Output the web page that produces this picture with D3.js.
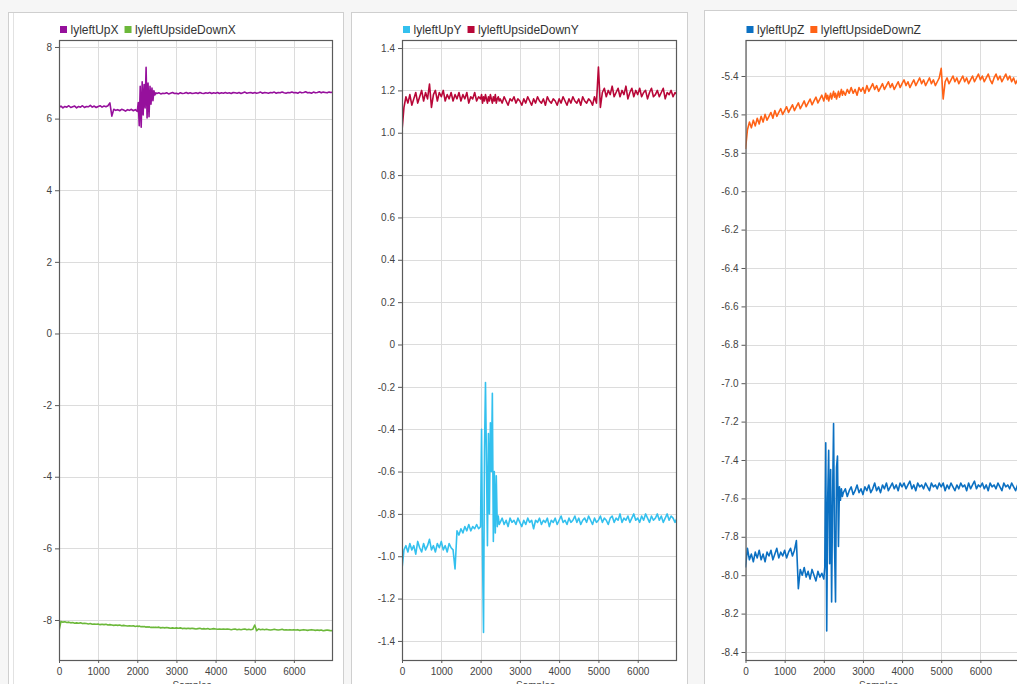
<!DOCTYPE html>
<html lang="en">
<head>
<meta charset="UTF-8">
<title>lyleft samples</title>
<script src="https://d3js.org/d3.v7.min.js"></script>
<style>
  body { margin: 0; background: #f6f6f6; font-family: "Liberation Sans", Arial, sans-serif; }
  svg { display: block; }
  .tick text { fill: #444; font-size: 10px; font-family: "Liberation Sans", Arial, sans-serif; }
  .legend text { fill: #333; font-size: 12px; }
  .grid line { stroke: #dcdcdc; }
</style>
</head>
<body>
<svg width="1017" height="684"></svg>
<script>
// sample index: every 50, denser (25) around the disturbance
const samples = [].concat(d3.range(0, 2000, 50), d3.range(2000, 2500, 25), d3.range(2500, 7001, 50));

const xTicks = [0, 1000, 2000, 3000, 4000, 5000, 6000];
const yTicksX = [-8, -6, -4, -2, 0, 2, 4, 6, 8];
const yTicksY = [-1.4, -1.2, -1.0, -0.8, -0.6, -0.4, -0.2, 0, 0.2, 0.4, 0.6, 0.8, 1.0, 1.2, 1.4];
const yTicksZ = [-8.4, -8.2, -8.0, -7.8, -7.6, -7.4, -7.2, -7.0, -6.8, -6.6, -6.4, -6.2, -6.0, -5.8, -5.6, -5.4];

const upX = [
  6.31, 6.35, 6.30, 6.34, 6.32, 6.36, 6.31, 6.33, 6.35, 6.30,
  6.34, 6.32, 6.36, 6.31, 6.34, 6.33, 6.37, 6.32, 6.35, 6.31,
  6.34, 6.36, 6.32, 6.35, 6.33, 6.36, 6.44, 6.07, 6.26, 6.23,
  6.25, 6.22, 6.26, 6.24, 6.21, 6.25, 6.23, 6.26, 6.22, 6.25,
  6.20, 6.45, 5.80, 6.90, 5.76, 7.03, 6.10, 6.95, 6.30, 7.43,
  6.02, 6.99, 6.05, 6.90, 6.40, 6.85, 6.50, 6.78, 6.66, 6.72,
  6.70, 6.72, 6.69, 6.71, 6.70, 6.72, 6.69, 6.71, 6.73, 6.70,
  6.71, 6.69, 6.72, 6.70, 6.71, 6.73, 6.70, 6.72, 6.70, 6.71,
  6.72, 6.70, 6.73, 6.71, 6.70, 6.72, 6.71, 6.73, 6.70, 6.72,
  6.71, 6.73, 6.70, 6.72, 6.71, 6.73, 6.71, 6.72, 6.70, 6.73,
  6.72, 6.71, 6.73, 6.70, 6.72, 6.74, 6.71, 6.72, 6.73, 6.71,
  6.73, 6.71, 6.72, 6.74, 6.71, 6.73, 6.72, 6.71, 6.73, 6.72,
  6.74, 6.71, 6.73, 6.72, 6.74, 6.72, 6.71, 6.73, 6.72, 6.74,
  6.72, 6.73, 6.71, 6.74, 6.72, 6.73, 6.75, 6.72, 6.73, 6.71,
  6.74, 6.72, 6.73, 6.75, 6.72, 6.74, 6.73, 6.72, 6.74, 6.73,
  6.74
];
const downX = [
  -8.30, -8.04, -8.06, -8.05, -8.07, -8.06, -8.08, -8.07, -8.09, -8.08,
  -8.09, -8.08, -8.10, -8.09, -8.10, -8.11, -8.10, -8.12, -8.11, -8.12,
  -8.11, -8.13, -8.12, -8.13, -8.12, -8.14, -8.13, -8.14, -8.15, -8.14,
  -8.15, -8.14, -8.16, -8.15, -8.16, -8.17, -8.16, -8.17, -8.16, -8.18,
  -8.17, -8.18, -8.17, -8.18, -8.19, -8.18, -8.19, -8.18, -8.19, -8.20,
  -8.19, -8.20, -8.19, -8.20, -8.21, -8.20, -8.21, -8.20, -8.21, -8.20,
  -8.21, -8.20, -8.22, -8.21, -8.22, -8.21, -8.22, -8.23, -8.22, -8.23,
  -8.22, -8.23, -8.22, -8.24, -8.23, -8.24, -8.23, -8.24, -8.23, -8.24,
  -8.25, -8.24, -8.23, -8.25, -8.24, -8.25, -8.24, -8.26, -8.25, -8.24,
  -8.25, -8.26, -8.25, -8.26, -8.25, -8.26, -8.25, -8.26, -8.27, -8.26,
  -8.25, -8.27, -8.26, -8.27, -8.26, -8.25, -8.27, -8.26, -8.27, -8.26,
  -8.14, -8.30, -8.25, -8.27, -8.26, -8.27, -8.26, -8.27, -8.28, -8.27,
  -8.26, -8.27, -8.28, -8.27, -8.26, -8.28, -8.27, -8.28, -8.27, -8.28,
  -8.27, -8.28, -8.27, -8.29, -8.28, -8.27, -8.28, -8.29, -8.28, -8.27,
  -8.28, -8.29, -8.28, -8.29, -8.28, -8.30, -8.29, -8.28, -8.29, -8.30,
  -8.29
];

const upY = [
  -1.06, -0.97, -0.95, -0.98, -0.94, -0.97, -0.95, -0.99, -0.93, -0.96,
  -0.98, -0.94, -0.97, -0.95, -0.92, -0.97, -0.95, -0.98, -0.94, -0.96,
  -0.93, -0.97, -0.95, -0.98, -0.94, -0.96, -0.97, -1.06, -0.88, -0.90,
  -0.87, -0.89, -0.86, -0.88, -0.85, -0.88, -0.86, -0.87, -0.85, -0.87,
  -0.86, -0.40, -1.00, -1.36, -0.50, -0.18, -0.55, -0.95, -0.42, -0.80,
  -0.37, -0.60, -0.23, -0.93, -0.60, -0.89, -0.62, -0.86, -0.81, -0.85,
  -0.84, -0.82, -0.85, -0.83, -0.86, -0.82, -0.84, -0.83, -0.85, -0.82,
  -0.84, -0.86, -0.83, -0.85, -0.82, -0.84, -0.83, -0.87, -0.83, -0.84,
  -0.82, -0.85, -0.83, -0.84, -0.82, -0.86, -0.83, -0.84, -0.82, -0.85,
  -0.83, -0.81, -0.84, -0.83, -0.85, -0.82, -0.84, -0.83, -0.81, -0.84,
  -0.82, -0.85, -0.83, -0.82, -0.84, -0.81, -0.83, -0.85, -0.82, -0.84,
  -0.83, -0.81, -0.84, -0.82, -0.83, -0.85, -0.82, -0.81, -0.84, -0.82,
  -0.83, -0.80, -0.84, -0.82, -0.83, -0.81, -0.84, -0.82, -0.80, -0.83,
  -0.82, -0.84, -0.81, -0.83, -0.80, -0.82, -0.84, -0.81, -0.83, -0.82,
  -0.80, -0.83, -0.81, -0.84, -0.82, -0.80, -0.83, -0.81, -0.82, -0.84,
  -0.82
];
const downY = [
  1.01, 1.12, 1.17, 1.14, 1.18, 1.13, 1.16, 1.19, 1.14, 1.17,
  1.20, 1.15, 1.19, 1.16, 1.23, 1.12, 1.18, 1.20, 1.15, 1.19,
  1.17, 1.20, 1.15, 1.18, 1.16, 1.19, 1.15, 1.18, 1.16, 1.19,
  1.15, 1.18, 1.16, 1.19, 1.14, 1.17, 1.16, 1.19, 1.15, 1.17,
  1.16, 1.18, 1.14, 1.17, 1.15, 1.18, 1.16, 1.14, 1.17, 1.15,
  1.18, 1.16, 1.14, 1.17, 1.15, 1.18, 1.14, 1.16, 1.17, 1.15,
  1.16, 1.14, 1.17, 1.15, 1.13, 1.16, 1.15, 1.17, 1.14, 1.16,
  1.15, 1.13, 1.16, 1.14, 1.17, 1.15, 1.13, 1.16, 1.14, 1.17,
  1.15, 1.14, 1.16, 1.13, 1.17, 1.15, 1.14, 1.16, 1.15, 1.13,
  1.16, 1.14, 1.17, 1.15, 1.13, 1.16, 1.14, 1.17, 1.15, 1.14,
  1.16, 1.13, 1.17, 1.15, 1.14, 1.16, 1.15, 1.13, 1.17, 1.14,
  1.31, 1.12, 1.19, 1.21, 1.17, 1.20, 1.18, 1.22, 1.17, 1.19,
  1.21, 1.17, 1.20, 1.18, 1.22, 1.16, 1.19, 1.21, 1.17, 1.20,
  1.18, 1.21, 1.17, 1.19, 1.20, 1.16, 1.19, 1.21, 1.17, 1.18,
  1.20, 1.17, 1.19, 1.21, 1.16, 1.19, 1.18, 1.20, 1.17, 1.19,
  1.18
];

const upZ = [
  -7.96, -7.86, -7.92, -7.89, -7.93, -7.88, -7.91, -7.87, -7.92, -7.89,
  -7.93, -7.88, -7.90, -7.87, -7.92, -7.89, -7.86, -7.91, -7.88, -7.90,
  -7.87, -7.91, -7.88, -7.86, -7.90, -7.87, -7.82, -8.07, -7.97, -8.00,
  -7.96, -8.01, -7.98, -8.02, -7.97, -8.00, -8.03, -7.98, -8.01, -7.99,
  -8.02, -7.96, -7.31, -8.29, -7.60, -7.35, -7.94, -7.45, -8.14, -7.60,
  -7.21, -7.85, -8.14, -7.44, -7.38, -7.85, -7.54, -7.61, -7.55, -7.59,
  -7.57, -7.55, -7.59, -7.56, -7.54, -7.58, -7.56, -7.53, -7.57, -7.55,
  -7.58, -7.54, -7.56, -7.53, -7.57, -7.55, -7.52, -7.56, -7.54, -7.57,
  -7.53, -7.55, -7.52, -7.56, -7.54, -7.52, -7.55, -7.53, -7.56, -7.52,
  -7.54, -7.52, -7.55, -7.53, -7.51, -7.55, -7.53, -7.56, -7.52, -7.54,
  -7.53, -7.55, -7.52, -7.54, -7.56, -7.52, -7.54, -7.53, -7.55, -7.52,
  -7.54, -7.52, -7.56, -7.53, -7.55, -7.52, -7.54, -7.56, -7.53, -7.55,
  -7.52, -7.54, -7.53, -7.56, -7.52, -7.55, -7.53, -7.51, -7.55, -7.53,
  -7.54, -7.52, -7.55, -7.53, -7.56, -7.52, -7.54, -7.53, -7.55, -7.52,
  -7.54, -7.56, -7.52, -7.54, -7.53, -7.55, -7.52, -7.54, -7.56, -7.53,
  -7.54
];
const downZ = [
  -5.78, -5.68, -5.64, -5.67, -5.63, -5.66, -5.62, -5.65, -5.61, -5.64,
  -5.60, -5.63, -5.61, -5.59, -5.62, -5.58, -5.61, -5.59, -5.57, -5.60,
  -5.58, -5.56, -5.59, -5.57, -5.55, -5.58, -5.56, -5.54, -5.57, -5.55,
  -5.53, -5.56, -5.54, -5.52, -5.55, -5.53, -5.51, -5.54, -5.52, -5.50,
  -5.53, -5.51, -5.49, -5.52, -5.50, -5.53, -5.51, -5.49, -5.52, -5.50,
  -5.48, -5.51, -5.49, -5.52, -5.50, -5.48, -5.51, -5.49, -5.47, -5.50,
  -5.48, -5.50, -5.47, -5.49, -5.46, -5.49, -5.47, -5.50, -5.46, -5.48,
  -5.46, -5.49, -5.45, -5.48, -5.46, -5.44, -5.47, -5.45, -5.48, -5.46,
  -5.44, -5.47, -5.45, -5.43, -5.46, -5.44, -5.47, -5.45, -5.43, -5.46,
  -5.44, -5.42, -5.45, -5.43, -5.46, -5.44, -5.42, -5.45, -5.43, -5.41,
  -5.44, -5.42, -5.45, -5.43, -5.41, -5.44, -5.42, -5.45, -5.43, -5.41,
  -5.36, -5.52, -5.43, -5.41, -5.44, -5.42, -5.40, -5.43, -5.41, -5.44,
  -5.42, -5.40, -5.43, -5.41, -5.44, -5.42, -5.40, -5.43, -5.41, -5.39,
  -5.42, -5.40, -5.43, -5.41, -5.39, -5.42, -5.44, -5.41, -5.39, -5.42,
  -5.40, -5.43, -5.41, -5.39, -5.42, -5.40, -5.43, -5.41, -5.44, -5.42,
  -5.41
];

const fmtOne = d => d === 0 ? "0" : d3.format(".1f")(d).replace("−", "-");

const panels = [
  { box: { x: 8, y: 12, w: 335 }, plot: { x: 59, y: 40, w: 274, h: 620 },
    yDomain: [-9.117, 8.195], yTicks: yTicksX, fmt: d => String(d),
    series: [{ name: "lyleftUpX", values: upX, color: "#96109c" },
             { name: "lyleftUpsideDownX", values: downX, color: "#6cb83a" }] },
  { box: { x: 351, y: 12, w: 336 }, plot: { x: 402, y: 40, w: 275, h: 620 },
    yDomain: [-1.490, 1.438], yTicks: yTicksY, fmt: fmtOne,
    series: [{ name: "lyleftUpY", values: upY, color: "#33c0ee" },
             { name: "lyleftUpsideDownY", values: downY, color: "#b80738" }] },
  { box: { x: 704, y: 10, w: 335 }, plot: { x: 745.5, y: 40, w: 274, h: 620 },
    yDomain: [-8.4417, -5.2125], yTicks: yTicksZ, fmt: d => d3.format(".1f")(d).replace("−", "-"),
    series: [{ name: "lyleftUpZ", values: upZ, color: "#0b70c2" },
             { name: "lyleftUpsideDownZ", values: downZ, color: "#ff6216" }] }
];

const svg = d3.select("svg");

panels.forEach((p, pi) => {
  // panel card
  svg.append("rect")
    .attr("x", p.box.x + 0.5).attr("y", p.box.y + 0.5)
    .attr("width", p.box.w).attr("height", 700)
    .attr("fill", "#fff").attr("stroke", "#cfcfcf");
  if (pi === 0) {
    svg.append("line").attr("x1", 13.5).attr("x2", 13.5).attr("y1", p.box.y + 1).attr("y2", 684)
      .attr("stroke", "#e2e2e2");
  }

  const x = d3.scaleLinear().domain([0, 7000]).range([p.plot.x, p.plot.x + p.plot.w]);
  const y = d3.scaleLinear().domain(p.yDomain).range([p.plot.y + p.plot.h, p.plot.y]);

  // grid
  const grid = svg.append("g").attr("class", "grid");
  grid.selectAll(".h").data(p.yTicks).enter().append("line")
    .attr("x1", p.plot.x).attr("x2", p.plot.x + p.plot.w)
    .attr("y1", d => Math.round(y(d)) + 0.5).attr("y2", d => Math.round(y(d)) + 0.5);
  grid.selectAll(".v").data(xTicks).enter().append("line")
    .attr("y1", p.plot.y).attr("y2", p.plot.y + p.plot.h)
    .attr("x1", d => Math.round(x(d)) + 0.5).attr("x2", d => Math.round(x(d)) + 0.5);

  // series
  const clipId = "clip" + pi;
  svg.append("clipPath").attr("id", clipId).append("rect")
    .attr("x", p.plot.x).attr("y", p.plot.y).attr("width", p.plot.w).attr("height", p.plot.h);

  const line = d3.line().x((d, i) => x(samples[i])).y(d => y(d));
  p.series.forEach(s => {
    svg.append("path")
      .attr("clip-path", `url(#${clipId})`)
      .attr("d", line(s.values))
      .attr("fill", "none")
      .attr("stroke", s.color)
      .attr("stroke-width", 1.6)
      .attr("stroke-linejoin", "round");
  });

  // frame
  svg.append("rect")
    .attr("x", p.plot.x + 0.5).attr("y", p.plot.y + 0.5)
    .attr("width", p.plot.w - 1).attr("height", p.plot.h)
    .attr("fill", "none").attr("stroke", "#5a5a5a").attr("stroke-width", 1.2);

  // axes
  const yAxis = svg.append("g")
    .attr("transform", `translate(${p.plot.x},0)`)
    .call(d3.axisLeft(y).tickValues(p.yTicks).tickFormat(p.fmt).tickSize(4).tickPadding(3));
  yAxis.select(".domain").remove();
  yAxis.selectAll(".tick line").attr("stroke", "#5a5a5a");

  const xAxis = svg.append("g")
    .attr("transform", `translate(0,${p.plot.y + p.plot.h})`)
    .call(d3.axisBottom(x).tickValues(xTicks).tickFormat(d3.format("d")).tickSize(3).tickPadding(5));
  xAxis.select(".domain").remove();
  xAxis.selectAll(".tick line").attr("stroke", "#5a5a5a");

  // axis title sits at the bottom edge, partly cut as in the source screenshot
  svg.append("text")
    .attr("x", p.plot.x + p.plot.w / 2 - 4).attr("y", 689)
    .attr("text-anchor", "middle")
    .attr("font-size", 10).attr("fill", "#444")
    .text("Samples");

  // legend
  const lg = svg.append("g").attr("class", "legend");
  let lx = p.plot.x + 1;
  p.series.forEach(s => {
    lg.append("rect").attr("x", lx).attr("y", 26).attr("width", 7).attr("height", 7).attr("fill", s.color);
    const t = lg.append("text").attr("x", lx + 10.5).attr("y", 33.5).text(s.name);
    lx += 10.5 + t.node().getComputedTextLength() + 6;
  });
});
</script>
</body>
</html>
